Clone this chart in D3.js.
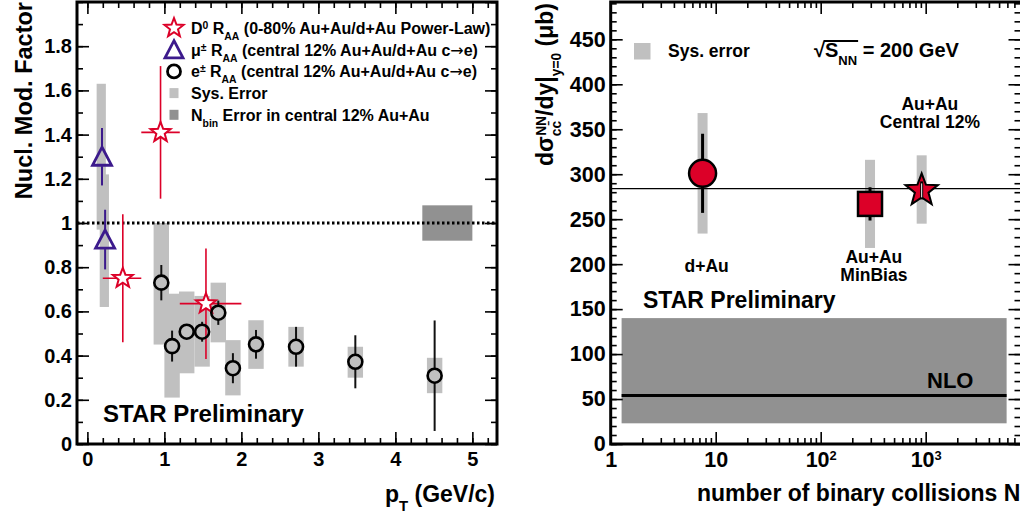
<!DOCTYPE html>
<html>
<head>
<meta charset="utf-8">
<script src="https://cdn.jsdelivr.net/npm/d3@7"></script>
<style>
body { margin: 0; background: #fff; }
text { font-family: "Liberation Sans", Arial, Helvetica, sans-serif; font-weight: bold; fill: #000; }
.arrow { font-family: "DejaVu Sans", sans-serif; font-weight: normal; }
</style>
</head>
<body>
<div id="chart"></div>
<script>
// ---- left panel: nuclear modification factor vs pT
const eleX = [0.96, 1.10, 1.29, 1.49, 1.70, 1.89, 2.19, 2.71, 3.48, 4.51];
const eleY = [0.73, 0.443, 0.508, 0.508, 0.594, 0.343, 0.451, 0.44, 0.372, 0.309];
const eleErr = [0.08, 0.07, 0.02, 0.045, 0.055, 0.068, 0.065, 0.09, 0.12, 0.25];
const eleSysLo = [0.45, 0.21, 0.32, 0.35, 0.46, 0.22, 0.34, 0.35, 0.30, 0.23];
const eleSysHi = [1.00, 0.68, 0.69, 0.67, 0.73, 0.47, 0.56, 0.53, 0.44, 0.39];
const eleSysDx = 0.1;

const muX = [0.19, 0.23];
const muY = [1.30, 0.925];
const muErr = [0.13, 0.135];
const muSysX = [0.18, 0.22];
const muSysLo = [0.97, 0.62];
const muSysHi = [1.63, 1.22];
const muSysDx = 0.06;

const d0X = [0.46, 0.95, 1.54];
const d0XLo = [0.2, 0.7, 1.2];
const d0XHi = [0.7, 1.2, 2.0];
const d0Y = [0.75, 1.41, 0.635];
const d0Err = [0.29, 0.30, 0.25];

const nbinBoxX = [4.35, 5.0];
const nbinBoxY = [0.92, 1.08];
const unity = 1;

const legendRows = [
  {pre: "D", sup: "0", rest: " (0-80% Au+Au/d+Au Power-Law)"},
  {pre: "\u03bc", sup: "\u00b1", rest: " (central 12% Au+Au/d+Au c", arrow: true},
  {pre: "e", sup: "\u00b1", rest: " (central 12% Au+Au/d+Au c", arrow: true},
  {pre: "Sys. Error"},
  {pre: "N", sub: "bin", rest: " Error in central 12% Au+Au"}
];

// ---- right panel: charm cross section vs number of binary collisions
const systems = ["d+Au", "Au+Au MinBias", "Au+Au Central 12%"];
const nColl = [7.5, 295, 916];
const xsec = [301, 267, 282];
const xsecErr = [44, 18.5, 10];
const xsecSysLo = [234, 218, 245];
const xsecSysHi = [368, 316, 321];
const xsecMean = 284;
const nloValue = 54;
const nloBand = [23, 140];
const nloRange = [1.27, 5900];

const red = "#dc0028";
const purple = "#3c1a8c";
const lightGray = "#c0c0c0";
const darkGray = "#919191";

const svg = d3.select("#chart").append("svg")
    .attr("width", 1020)
    .attr("height", 519);

function starPath(R) {
    const r = R * 0.42;
    const p = [];
    for (let i = 0; i < 10; i++) {
        const a = -Math.PI / 2 + i * Math.PI / 5;
        const rr = i % 2 ? r : R;
        p.push([rr * Math.cos(a), rr * Math.sin(a)]);
    }
    return "M" + p.join("L") + "Z";
}

function trianglePath(s) {
    return `M0,${-s}L${s},${s * 0.9}L${-s},${s * 0.9}Z`;
}

// vertical error bar leaving a gap around the marker
function vErr(g, x, y, yTop, yBot, gap, color, w) {
    if (y - gap > yTop) g.append("line").attr("x1", x).attr("x2", x).attr("y1", yTop).attr("y2", y - gap)
        .attr("stroke", color).attr("stroke-width", w);
    if (y + gap < yBot) g.append("line").attr("x1", x).attr("x2", x).attr("y1", y + gap).attr("y2", yBot)
        .attr("stroke", color).attr("stroke-width", w);
}

function styleAxis(g, size) {
    g.select(".domain").remove();
    g.attr("font-size", size).attr("font-family", null);
    g.selectAll(".tick line").attr("stroke-width", 1.6);
}

// =================== LEFT PANEL ===================
const xL = d3.scaleLinear().domain([-0.135, 5.32]).range([77, 497]);
const yL = d3.scaleLinear().domain([0, 2]).range([444, 2]);
const left = svg.append("g");

// systematic boxes
eleX.forEach((x, i) => {
    left.append("rect")
        .attr("x", xL(x - eleSysDx)).attr("width", xL(x + eleSysDx) - xL(x - eleSysDx))
        .attr("y", yL(eleSysHi[i])).attr("height", yL(eleSysLo[i]) - yL(eleSysHi[i]))
        .attr("fill", lightGray);
});
muSysX.forEach((x, i) => {
    left.append("rect")
        .attr("x", xL(x - muSysDx)).attr("width", xL(x + muSysDx) - xL(x - muSysDx))
        .attr("y", yL(muSysHi[i])).attr("height", yL(muSysLo[i]) - yL(muSysHi[i]))
        .attr("fill", lightGray);
});

// Nbin normalisation box
left.append("rect")
    .attr("x", xL(nbinBoxX[0])).attr("width", xL(nbinBoxX[1]) - xL(nbinBoxX[0]))
    .attr("y", yL(nbinBoxY[1])).attr("height", yL(nbinBoxY[0]) - yL(nbinBoxY[1]))
    .attr("fill", darkGray);

// dotted unity line
left.append("line")
    .attr("x1", xL.range()[0]).attr("x2", xL.range()[1])
    .attr("y1", yL(unity)).attr("y2", yL(unity))
    .attr("stroke", "#000").attr("stroke-width", 3).attr("stroke-dasharray", "2.5,2.5");

// D0 stars
d0X.forEach((x, i) => {
    const cx = xL(x), cy = yL(d0Y[i]);
    left.append("line").attr("x1", xL(d0XLo[i])).attr("x2", xL(d0XHi[i])).attr("y1", cy).attr("y2", cy)
        .attr("stroke", red).attr("stroke-width", 1.6);
    left.append("line").attr("x1", cx).attr("x2", cx).attr("y1", yL(d0Y[i] + d0Err[i])).attr("y2", yL(d0Y[i] - d0Err[i]))
        .attr("stroke", red).attr("stroke-width", 1.6);
    left.append("path").attr("d", starPath(10.5)).attr("transform", `translate(${cx},${cy})`)
        .attr("fill", "#fff").attr("stroke", red).attr("stroke-width", 2);
});

// muons
muX.forEach((x, i) => {
    const cx = xL(x), cy = yL(muY[i]);
    vErr(left, cx, cy, yL(muY[i] + muErr[i]), yL(muY[i] - muErr[i]), 9.5, purple, 2);
    left.append("path").attr("d", trianglePath(9.5)).attr("transform", `translate(${cx},${cy})`)
        .attr("fill", "none").attr("stroke", purple).attr("stroke-width", 2.8);
});

// electrons
eleX.forEach((x, i) => {
    const cx = xL(x), cy = yL(eleY[i]);
    vErr(left, cx, cy, yL(eleY[i] + eleErr[i]), yL(eleY[i] - eleErr[i]), 7, "#111", 2);
    left.append("circle").attr("cx", cx).attr("cy", cy).attr("r", 7)
        .attr("fill", "none").attr("stroke", "#000").attr("stroke-width", 2.6);
});

// legend
const leg = left.append("g");
legendRows.forEach((row, i) => {
    const cy = 28 + i * 21.7;
    const sx = 174;
    if (i === 0) leg.append("path").attr("d", starPath(10)).attr("transform", `translate(${sx},${cy})`)
        .attr("fill", "#fff").attr("stroke", red).attr("stroke-width", 2);
    if (i === 1) leg.append("path").attr("d", trianglePath(9)).attr("transform", `translate(${sx},${cy})`)
        .attr("fill", "none").attr("stroke", purple).attr("stroke-width", 2.8);
    if (i === 2) leg.append("circle").attr("cx", sx).attr("cy", cy).attr("r", 6.5)
        .attr("fill", "none").attr("stroke", "#000").attr("stroke-width", 2.8);
    if (i === 3 || i === 4) leg.append("rect").attr("x", sx - 4.5).attr("y", cy - 5).attr("width", 9).attr("height", 10)
        .attr("fill", i === 3 ? lightGray : darkGray);
    const t = leg.append("text").attr("x", 191).attr("y", cy + 6).attr("font-size", 16).text(row.pre);
    if (row.sup) {
        t.append("tspan").attr("baseline-shift", "super").attr("font-size", "65%").text(row.sup);
        t.append("tspan").text(" R");
        t.append("tspan").attr("baseline-shift", "sub").attr("font-size", "65%").text("AA");
    }
    if (row.sub) t.append("tspan").attr("baseline-shift", "sub").attr("font-size", "65%").text(row.sub);
    if (row.rest) t.append("tspan").text(row.rest);
    if (row.arrow) {
        t.append("tspan").attr("class", "arrow").text("\u2192");
        t.append("tspan").text("e)");
    }
});

left.append("text").attr("x", 103).attr("y", 422).attr("font-size", 24).text("STAR Preliminary");

// axes
const yMajL = d3.range(0, 2.01, 0.2), yMinL = d3.range(0, 2.01, 0.1);
const xMajL = d3.range(0, 6, 1), xMinL = d3.range(0, 5.3, 0.2);
left.append("g").attr("transform", "translate(77,0)")
    .call(d3.axisLeft(yL).tickValues(yMajL.filter(v => v < 1.95)).tickSize(-12).tickPadding(5)
        .tickFormat(d => String(+d.toFixed(1))))
    .call(g => styleAxis(g, 20));
left.append("g").attr("transform", "translate(77,0)")
    .call(d3.axisLeft(yL).tickValues(yMinL).tickSize(-6).tickFormat(""))
    .call(g => styleAxis(g, 20));
left.append("g").attr("transform", "translate(497,0)")
    .call(d3.axisRight(yL).tickValues(yMajL).tickSize(-12).tickFormat(""))
    .call(g => styleAxis(g, 20));
left.append("g").attr("transform", "translate(497,0)")
    .call(d3.axisRight(yL).tickValues(yMinL).tickSize(-6).tickFormat(""))
    .call(g => styleAxis(g, 20));
left.append("g").attr("transform", "translate(0,444)")
    .call(d3.axisBottom(xL).tickValues(xMajL).tickSize(-12).tickPadding(8).tickFormat(d3.format("d")))
    .call(g => styleAxis(g, 20));
left.append("g").attr("transform", "translate(0,444)")
    .call(d3.axisBottom(xL).tickValues(xMinL).tickSize(-6).tickFormat(""))
    .call(g => styleAxis(g, 20));
left.append("g").attr("transform", "translate(0,2)")
    .call(d3.axisTop(xL).tickValues(xMajL).tickSize(-12).tickFormat(""))
    .call(g => styleAxis(g, 20));
left.append("g").attr("transform", "translate(0,2)")
    .call(d3.axisTop(xL).tickValues(xMinL).tickSize(-6).tickFormat(""))
    .call(g => styleAxis(g, 20));

left.append("rect").attr("x", 77).attr("y", 2).attr("width", 420).attr("height", 442)
    .attr("fill", "none").attr("stroke", "#000").attr("stroke-width", 3);

const xtL = left.append("text").attr("x", 495).attr("y", 502).attr("font-size", 23).attr("text-anchor", "end").text("p");
xtL.append("tspan").attr("baseline-shift", "sub").attr("font-size", "65%").text("T");
xtL.append("tspan").text(" (GeV/c)");

left.append("text").attr("transform", "translate(32,2) rotate(-90)").attr("text-anchor", "end")
    .attr("font-size", 23.5).text("Nucl. Mod. Factor");

// =================== RIGHT PANEL ===================
const xR = d3.scaleLog().domain([1, 8000]).range([610.7, 1020.5]);
const yR = d3.scaleLinear().domain([0, 491.5]).range([444, 2]);
const right = svg.append("g");

// NLO band and line
right.append("rect")
    .attr("x", xR(nloRange[0])).attr("width", xR(nloRange[1]) - xR(nloRange[0]))
    .attr("y", yR(nloBand[1])).attr("height", yR(nloBand[0]) - yR(nloBand[1]))
    .attr("fill", darkGray);
right.append("line")
    .attr("x1", xR(nloRange[0])).attr("x2", xR(nloRange[1]))
    .attr("y1", yR(nloValue)).attr("y2", yR(nloValue))
    .attr("stroke", "#000").attr("stroke-width", 3);

// systematic bars
nColl.forEach((n, i) => {
    right.append("rect").attr("x", xR(n) - 5).attr("width", 10)
        .attr("y", yR(xsecSysHi[i])).attr("height", yR(xsecSysLo[i]) - yR(xsecSysHi[i]))
        .attr("fill", lightGray);
});

// average line
right.append("line").attr("x1", 610.7).attr("x2", 1020)
    .attr("y1", yR(xsecMean)).attr("y2", yR(xsecMean))
    .attr("stroke", "#000").attr("stroke-width", 1.3);

// points
nColl.forEach((n, i) => {
    const cx = xR(n), cy = yR(xsec[i]);
    const bar = () => right.append("line").attr("x1", cx).attr("x2", cx)
        .attr("y1", yR(xsec[i] + xsecErr[i])).attr("y2", yR(xsec[i] - xsecErr[i]))
        .attr("stroke", "#000").attr("stroke-width", 3);
    if (i === 0) {
        bar();
        right.append("circle").attr("cx", cx).attr("cy", cy).attr("r", 13.5)
            .attr("fill", red).attr("stroke", "#000").attr("stroke-width", 2.5);
    } else if (i === 1) {
        bar();
        right.append("rect").attr("x", cx - 12).attr("y", cy - 12).attr("width", 24).attr("height", 24)
            .attr("fill", red).attr("stroke", "#000").attr("stroke-width", 2.5);
    } else {
        right.append("path").attr("d", starPath(17)).attr("transform", `translate(${cx},${cy})`)
            .attr("fill", red).attr("stroke", "#000").attr("stroke-width", 2);
        bar();
        right.append("line").attr("x1", cx).attr("x2", cx)
            .attr("y1", yR(xsec[i] + xsecErr[i]) + 2).attr("y2", yR(xsec[i] - xsecErr[i]) - 2)
            .attr("stroke", "#fff").attr("stroke-width", 1);
    }
});

// system labels
const ann = [
    {lines: ["d+Au"], n: 8.2, v: 191.5},
    {lines: ["Au+Au", "MinBias"], n: 321, v: 201},
    {lines: ["Au+Au", "Central 12%"], n: 1096, v: 371.5}
];
ann.forEach(a => {
    a.lines.forEach((s, j) => {
        right.append("text").attr("x", xR(a.n)).attr("y", yR(a.v) + j * 18)
            .attr("text-anchor", "middle").attr("font-size", 17.5).text(s);
    });
});

right.append("text").attr("x", 643).attr("y", 308).attr("font-size", 23).text("STAR Preliminary");
right.append("text").attr("x", 927).attr("y", 388).attr("font-size", 22).text("NLO");

// legend & energy
right.append("rect").attr("x", 634).attr("y", 43).attr("width", 16.5).attr("height", 16.5).attr("fill", lightGray);
right.append("text").attr("x", 668).attr("y", 57).attr("font-size", 17.5).text("Sys. error");
const en = right.append("text").attr("x", 814).attr("y", 57).attr("font-size", 20).text("\u221aS");
en.append("tspan").attr("baseline-shift", "sub").attr("font-size", "65%").text("NN");
en.append("tspan").text(" = 200 GeV");
{
    const e0 = en.node().getExtentOfChar(0);
    const e3 = en.node().getExtentOfChar(3);
    right.append("line").attr("x1", e0.x + e0.width - 1.5).attr("x2", e3.x + e3.width + 1)
        .attr("y1", e0.y + 2).attr("y2", e0.y + 2).attr("stroke", "#000").attr("stroke-width", 2);
}

// axes
const yMajR = d3.range(0, 491, 50), yMinR = d3.range(0, 491, 10);
const xMajR = [1, 10, 100, 1000];
const xMinR = [];
xMajR.forEach(d => d3.range(2, 10).forEach(k => { if (d * k < 8000) xMinR.push(d * k); }));
right.append("g").attr("transform", "translate(610.7,0)")
    .call(d3.axisLeft(yR).tickValues(yMajR).tickSize(-12).tickPadding(5).tickFormat(d3.format("d")))
    .call(g => styleAxis(g, 21.5));
right.append("g").attr("transform", "translate(610.7,0)")
    .call(d3.axisLeft(yR).tickValues(yMinR).tickSize(-6).tickFormat(""))
    .call(g => styleAxis(g, 21.5));
right.append("g").attr("transform", "translate(1020.5,0)")
    .call(d3.axisRight(yR).tickValues(yMajR).tickSize(-12).tickFormat(""))
    .call(g => styleAxis(g, 21.5));
right.append("g").attr("transform", "translate(1020.5,0)")
    .call(d3.axisRight(yR).tickValues(yMinR).tickSize(-6).tickFormat(""))
    .call(g => styleAxis(g, 21.5));
right.append("g").attr("transform", "translate(0,444)")
    .call(d3.axisBottom(xR).tickValues(xMajR).tickSize(-12).tickPadding(8).tickFormat(d => d))
    .call(g => styleAxis(g, 21.5))
    .call(g => g.selectAll(".tick text").each(function(d) {
        const t = d3.select(this);
        if (d >= 100) {
            t.text("10");
            t.append("tspan").attr("baseline-shift", "super").attr("font-size", "60%").text(Math.round(Math.log10(d)));
        }
    }));
right.append("g").attr("transform", "translate(0,444)")
    .call(d3.axisBottom(xR).tickValues(xMinR).tickSize(-6).tickFormat(""))
    .call(g => styleAxis(g, 21.5));
right.append("g").attr("transform", "translate(0,2)")
    .call(d3.axisTop(xR).tickValues(xMajR).tickSize(-12).tickFormat(""))
    .call(g => styleAxis(g, 21.5));
right.append("g").attr("transform", "translate(0,2)")
    .call(d3.axisTop(xR).tickValues(xMinR).tickSize(-6).tickFormat(""))
    .call(g => styleAxis(g, 21.5));

right.append("rect").attr("x", 610.7).attr("y", 2).attr("width", 411).attr("height", 442)
    .attr("fill", "none").attr("stroke", "#000").attr("stroke-width", 3);

right.append("text").attr("x", 697).attr("y", 501).attr("font-size", 23).text("number of binary collisions N");

const yt = right.append("text").attr("transform", "translate(553,3) rotate(-90)").attr("text-anchor", "end")
    .attr("font-size", 23).text("d\u03c3");
yt.append("tspan").attr("baseline-shift", "sub").attr("font-size", "60%").text("c\u0063\u0304");
yt.append("tspan").attr("baseline-shift", "super").attr("font-size", "60%").attr("dx", -15).text("NN");
yt.append("tspan").text("/dy|");
yt.append("tspan").attr("baseline-shift", "sub").attr("font-size", "60%").text("y=0");
yt.append("tspan").text(" (\u03bcb)");
</script>
</body>
</html>
